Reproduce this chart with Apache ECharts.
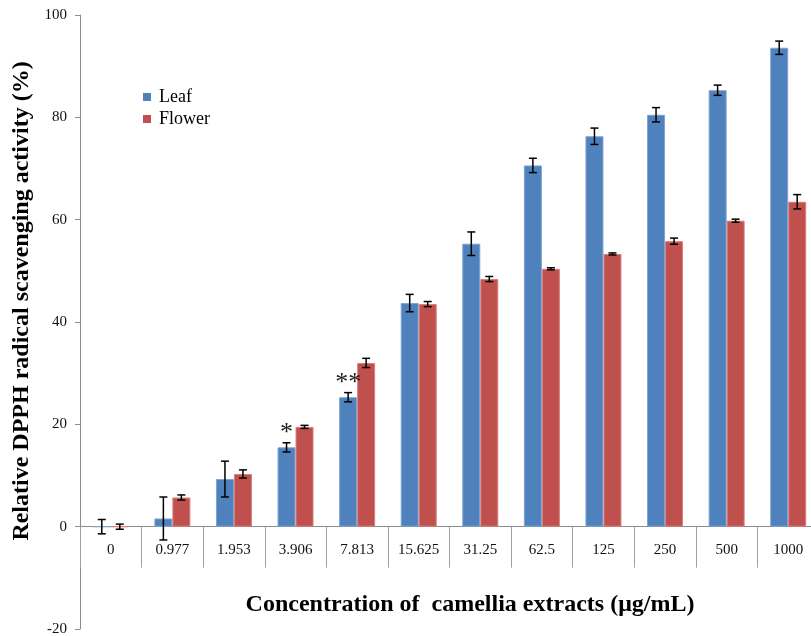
<!DOCTYPE html>
<html>
<head>
<meta charset="utf-8">
<script src="https://cdn.jsdelivr.net/npm/echarts@6/dist/echarts.min.js"></script>
<style>
html,body{margin:0;padding:0;background:#fff;}
#chart{width:811px;height:636px;}
</style>
</head>
<body>
<div id="chart"></div>
<script>
const categories = ['0', '0.977', '1.953', '3.906', '7.813', '15.625', '31.25', '62.5', '125', '250', '500', '1000'];
const leafValues = [0, 1.6, 9.3, 15.5, 25.3, 43.7, 55.3, 70.6, 76.3, 80.5, 85.3, 93.6];
const leafErrors = [1.4, 4.2, 3.5, 0.9, 0.9, 1.7, 2.3, 1.4, 1.6, 1.4, 1.0, 1.3];
const flowerValues = [0, 5.7, 10.3, 19.5, 32.0, 43.5, 48.4, 50.4, 53.3, 55.8, 59.8, 63.5];
const flowerErrors = [0.5, 0.5, 0.8, 0.3, 0.9, 0.5, 0.5, 0.2, 0.2, 0.6, 0.3, 1.4];
const significance = ['', '', '', '*', '**', '', '', '', '', '', '', ''];
const yTicks = { min: -20, max: 100, interval: 20 };

const FONT = 'Liberation Serif';
const BAR_W = 18;
const GRID_TOP = 15, GRID_BOTTOM = 7, CHART_H = 636;
// pixel distance from grid bottom (y = min) up to the zero line
const zeroOffset = (CHART_H - GRID_TOP - GRID_BOTTOM) * (0 - yTicks.min) / (yTicks.max - yTicks.min);

function errorData(values, errors) {
  return values.map((v, i) => [i, v - errors[i], v + errors[i]]);
}
function errorRender(offset) {
  return function (params, api) {
    const idx = api.value(0);
    const x = api.coord([idx, 0])[0] + offset;
    const yl = api.coord([idx, api.value(1)])[1];
    const yh = api.coord([idx, api.value(2)])[1];
    const cap = 4;
    const style = { stroke: '#000', lineWidth: 1.5 };
    return {
      type: 'group',
      children: [
        { type: 'line', shape: { x1: x, y1: yl, x2: x, y2: yh }, style: style },
        { type: 'line', shape: { x1: x - cap, y1: yh, x2: x + cap, y2: yh }, style: style },
        { type: 'line', shape: { x1: x - cap, y1: yl, x2: x + cap, y2: yl }, style: style }
      ]
    };
  };
}

const chart = echarts.init(document.getElementById('chart'));
chart.setOption({
  animation: false,
  backgroundColor: '#fff',
  textStyle: { fontFamily: FONT },
  grid: { left: 80, top: GRID_TOP, width: 739, bottom: GRID_BOTTOM, containLabel: false, outerBoundsMode: 'none' },
  legend: {
    orient: 'vertical',
    left: 138,
    top: 83,
    icon: 'rect',
    itemWidth: 8,
    itemHeight: 8,
    itemGap: 4,
    itemStyle: { borderWidth: 0 },
    textStyle: { fontFamily: FONT, fontSize: 18, color: '#000', padding: [0, 0, 0, 3] },
    data: ['Leaf', 'Flower']
  },
  xAxis: {
    type: 'category',
    data: categories,
    position: 'bottom',
    offset: -zeroOffset,
    axisLine: { onZero: false, lineStyle: { color: '#8c8c8c', width: 1 } },
    axisTick: { show: true, interval: 0, length: 41, lineStyle: { color: '#a0a0a0', width: 1 } },
    axisLabel: { show: true, interval: 0, margin: 16, fontFamily: FONT, fontSize: 15, color: '#111' },
    splitLine: { show: false }
  },
  yAxis: {
    type: 'value',
    min: yTicks.min,
    max: yTicks.max,
    interval: yTicks.interval,
    axisLine: { show: true, onZero: false, lineStyle: { color: '#8c8c8c', width: 1 } },
    axisTick: { show: true, length: 5, lineStyle: { color: '#8c8c8c' } },
    axisLabel: { margin: 13, fontFamily: FONT, fontSize: 15, color: '#111' },
    splitLine: { show: false }
  },
  graphic: [
    {
      type: 'text',
      x: 22, y: 301,
      rotation: Math.PI / 2,
      style: {
        text: 'Relative DPPH radical scavenging activity (%)',
        font: 'bold 24px "Liberation Serif"',
        fill: '#000',
        align: 'center',
        verticalAlign: 'middle'
      }
    },
    {
      type: 'text',
      x: 470, y: 605,
      style: {
        text: 'Concentration of  camellia extracts (μg/mL)',
        font: 'bold 24px "Liberation Serif"',
        fill: '#000',
        align: 'center',
        verticalAlign: 'middle'
      }
    }
  ],
  series: [
    {
      name: 'Leaf',
      type: 'bar',
      data: leafValues,
      barWidth: BAR_W,
      barGap: '0%',
      itemStyle: { color: '#4F81BD', borderColor: '#7fa3d1', borderWidth: 1 },
      label: {
        show: true,
        position: 'top',
        distance: 1,
        fontFamily: FONT,
        fontSize: 26,
        color: '#222',
        formatter: p => significance[p.dataIndex]
      }
    },
    {
      name: 'Flower',
      type: 'bar',
      data: flowerValues,
      barWidth: BAR_W,
      barGap: '0%',
      itemStyle: { color: '#C0504D', borderColor: '#d8807e', borderWidth: 1 }
    },
    {
      name: 'LeafErr',
      type: 'custom',
      renderItem: errorRender(-BAR_W / 2),
      data: errorData(leafValues, leafErrors),
      encode: { x: 0, y: [1, 2] },
      z: 10,
      silent: true
    },
    {
      name: 'FlowerErr',
      type: 'custom',
      renderItem: errorRender(BAR_W / 2),
      data: errorData(flowerValues, flowerErrors),
      encode: { x: 0, y: [1, 2] },
      z: 10,
      silent: true
    }
  ]
});
</script>
</body>
</html>
